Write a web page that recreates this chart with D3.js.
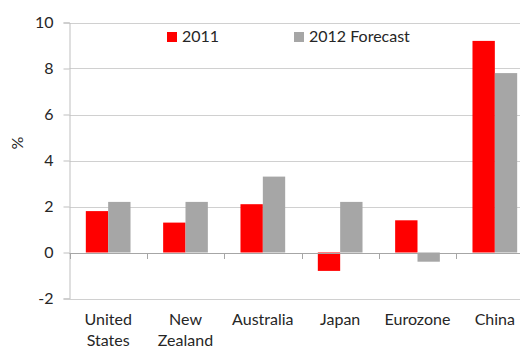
<!DOCTYPE html>
<html>
<head>
<meta charset="utf-8">
<script src="https://cdn.jsdelivr.net/npm/d3@7"></script>
<style>
  html, body { margin: 0; padding: 0; background: #fff; }
  svg { display: block; }
  text { font-family: Lato, "Open Sans", sans-serif; fill: #262626; }
</style>
</head>
<body>
<svg id="chart" width="520" height="349"></svg>
<script>
// GDP growth, 2011 actual vs 2012 forecast (%)
const categories = [["United", "States"], ["New", "Zealand"], ["Australia"], ["Japan"], ["Eurozone"], ["China"]];
const seriesNames = ["2011", "2012 Forecast"];
const values2011 = [1.8, 1.3, 2.1, -0.8, 1.4, 9.2];
const values2012 = [2.2, 2.2, 3.3, 2.2, -0.4, 7.8];
const yTicks = [-2, 0, 2, 4, 6, 8, 10];
const colors = ["#ff0000", "#a6a6a6"];

const svg = d3.select("#chart");
const plotLeft = 69.5, plotTop = 22.5, plotW = 464, plotH = 276;

const catKeys = categories.map(c => c.join(" "));
const x = d3.scaleBand().domain(catKeys).range([plotLeft, plotLeft + plotW]).paddingInner(0).paddingOuter(0);
const inner = d3.scaleBand().domain(seriesNames).range([0, x.bandwidth()]).paddingInner(0).paddingOuter(0.73);
const y = d3.scaleLinear().domain([-2, 10]).range([plotTop + plotH, plotTop]);

// horizontal gridlines
svg.append("g")
  .selectAll("line")
  .data(yTicks)
  .join("line")
  .attr("x1", plotLeft).attr("x2", plotLeft + plotW)
  .attr("y1", d => Math.round(y(d)) + 0.5).attr("y2", d => Math.round(y(d)) + 0.5)
  .attr("stroke", "#d0d0d0").attr("stroke-width", 1);

// bars
const rows = catKeys.map((k, i) => ({ key: k, vals: [values2011[i], values2012[i]] }));
const groups = svg.append("g").selectAll("g").data(rows).join("g")
  .attr("transform", d => `translate(${x(d.key)},0)`);
groups.selectAll("rect")
  .data(d => d.vals.map((v, j) => ({ v, s: seriesNames[j], j })))
  .join("rect")
  .attr("x", d => inner(d.s))
  .attr("width", inner.bandwidth())
  .attr("y", d => y(Math.max(0, d.v)))
  .attr("height", d => Math.abs(y(d.v) - y(0)))
  .attr("fill", d => colors[d.j]);

// y axis
const yAxis = d3.axisLeft(y).tickValues(yTicks).tickSize(6).tickPadding(10).tickFormat(d => String(d));
const ya = svg.append("g").attr("transform", `translate(${plotLeft},0)`).call(yAxis);
ya.select(".domain").attr("stroke", "#bfbfbf");
ya.selectAll(".tick line").attr("stroke", "#bfbfbf");
ya.selectAll(".tick text").style("font-size", "16px").attr("fill", "#262626").style("font-family", "Lato, sans-serif");

// category axis at zero
const xAxisLine = svg.append("g");
xAxisLine.append("line")
  .attr("x1", plotLeft).attr("x2", plotLeft + plotW)
  .attr("y1", Math.round(y(0)) + 0.5).attr("y2", Math.round(y(0)) + 0.5)
  .attr("stroke", "#a6a6a6");
xAxisLine.selectAll("line.tk")
  .data(catKeys.map(k => x(k)).concat([plotLeft + plotW]))
  .join("line").attr("class", "tk")
  .attr("x1", d => Math.round(d) + 0.5).attr("x2", d => Math.round(d) + 0.5)
  .attr("y1", Math.round(y(0)) + 0.5).attr("y2", Math.round(y(0)) + 6)
  .attr("stroke", "#a6a6a6");

// category labels below the plot
const labels = svg.append("g").selectAll("text").data(categories).join("text")
  .attr("x", (d, i) => x(catKeys[i]) + x.bandwidth() / 2)
  .attr("y", 325)
  .attr("text-anchor", "middle")
  .style("font-size", "16px");
labels.selectAll("tspan").data(d => d).join("tspan")
  .attr("x", function () { return d3.select(this.parentNode).attr("x"); })
  .attr("dy", (d, i) => i === 0 ? 0 : 20.5)
  .text(d => d);

// y axis title
svg.append("text")
  .attr("transform", "translate(23,143) rotate(-90)")
  .attr("text-anchor", "middle")
  .style("font-size", "16px")
  .text("%");

// legend
const legendX = [167, 294];
const legend = svg.append("g").selectAll("g").data(seriesNames).join("g")
  .attr("transform", (d, i) => `translate(${legendX[i]},32)`);
legend.append("rect").attr("width", 10).attr("height", 10).attr("fill", (d, i) => colors[i]);
legend.append("text").attr("x", 15).attr("y", 10).style("font-size", "16px").text(d => d);
</script>
</body>
</html>
